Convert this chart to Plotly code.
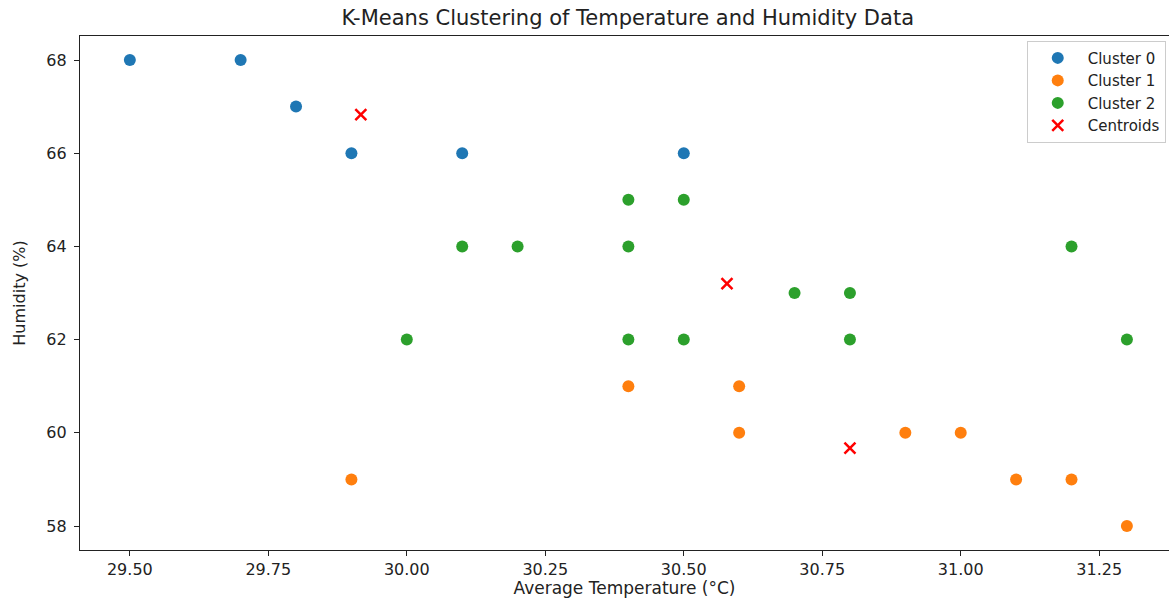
import plotly.graph_objects as go

# ---- data ----
c0_temp = [29.5, 29.7, 29.8, 29.9, 30.1, 30.5]
c0_hum = [68, 68, 67, 66, 66, 66]

c1_temp = [29.9, 30.4, 30.6, 30.6, 30.9, 31.0, 31.1, 31.2, 31.3]
c1_hum = [59, 61, 61, 60, 60, 60, 59, 59, 58]

c2_temp = [30.0, 30.1, 30.2, 30.4, 30.5, 30.4, 30.4, 30.5, 30.7, 30.8, 30.8, 31.2, 31.3]
c2_hum = [62, 64, 64, 65, 65, 64, 62, 62, 63, 63, 62, 64, 62]

cent_temp = [29.917, 30.578, 30.80]
cent_hum = [66.83, 63.2, 59.67]

series_names = ["Cluster 0", "Cluster 1", "Cluster 2"]
series_colors = ["#1f77b4", "#ff7f0e", "#2ca02c"]

x_ticks = [29.50, 29.75, 30.00, 30.25, 30.50, 30.75, 31.00, 31.25]
y_ticks = [58, 60, 62, 64, 66, 68]

FONT = "DejaVu Sans"

fig = go.Figure()
for name, xs, ys, col in zip(series_names,
                             [c0_temp, c1_temp, c2_temp],
                             [c0_hum, c1_hum, c2_hum],
                             series_colors):
    fig.add_trace(go.Scatter(
        x=xs, y=ys, mode="markers", name=name,
        marker=dict(symbol="circle", size=12, color=col, line=dict(width=0)),
    ))

fig.add_trace(go.Scatter(
    x=cent_temp, y=cent_hum, mode="markers", name="Centroids",
    marker=dict(symbol="x-thin", size=11, color="red",
                line=dict(width=2.5, color="red")),
))

axis_common = dict(
    showgrid=False, zeroline=False,
    showline=True, linecolor="#222", linewidth=1.2,
    ticks="outside", ticklen=5, tickwidth=1.2, tickcolor="#222",
)

fig.update_layout(
    width=1169, height=598,
    margin=dict(l=80, r=0, t=36, b=48),
    paper_bgcolor="white", plot_bgcolor="white",
    font=dict(family=FONT, color="#222"),
    title=dict(
        text="K-Means Clustering of Temperature and Humidity Data",
        font=dict(family=FONT, size=21, color="#222"),
        x=0.503, xref="paper", xanchor="center",
        y=1 - 18 / 598, yref="container", yanchor="middle",
    ),
    xaxis=dict(
        **axis_common,
        range=[29.41, 31.376],
        tickvals=x_ticks,
        ticktext=[f"{v:.2f}" for v in x_ticks],
        tickfont=dict(family=FONT, size=16, color="#222"),
        mirror=True,
        title=dict(text="Average Temperature (°C)",
                   font=dict(family=FONT, size=17, color="#222"),
                   standoff=5),
    ),
    yaxis=dict(
        **axis_common,
        range=[57.485, 68.515],
        tickvals=y_ticks,
        ticktext=[str(v) for v in y_ticks],
        tickfont=dict(family=FONT, size=16, color="#222"),
        ticklabelstandoff=4,
        title=dict(text="Humidity (%)",
                   font=dict(family=FONT, size=16, color="#222"),
                   standoff=16),
    ),
    legend=dict(
        x=0.997, xanchor="right", y=0.991, yanchor="top",
        bgcolor="white", bordercolor="#cccccc", borderwidth=1,
        font=dict(family=FONT, size=15, color="#222"),
        itemwidth=50,
    ),
    showlegend=True,
)

fig.write_html(
    "out.html",
    config={"displayModeBar": False},
    post_script="document.body.style.margin='0';document.body.style.overflow='hidden';",
)
